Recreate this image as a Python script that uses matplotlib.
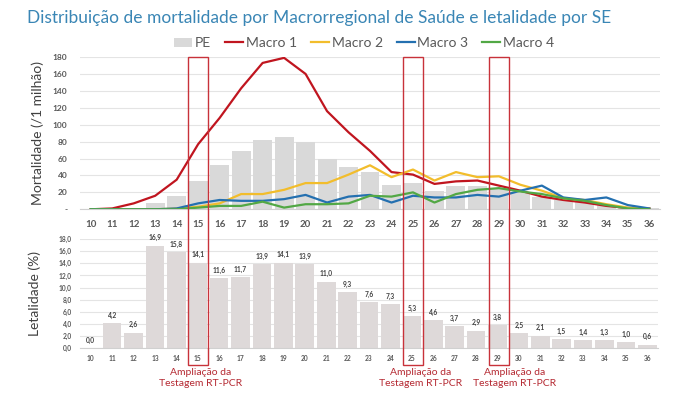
import numpy as np
import matplotlib
matplotlib.use("Agg")
import matplotlib.pyplot as plt
from matplotlib.patches import Rectangle
from matplotlib.transforms import blended_transform_factory

plt.rcParams['font.family'] = ['Lato', 'DejaVu Sans']

# semanas epidemiologicas
weeks = list(range(10, 37))
# mortalidade por 1 milhao
pe = [0, 0, 1, 7, 16, 33, 52, 69, 82, 85, 79, 60, 50, 44, 29, 31, 22, 27, 27, 25, 19, 15, 11, 9, 5, 2.5, 1]
macro1 = [0, 1, 7, 16, 35, 77, 108, 143, 173, 179, 160, 116, 91, 69, 44, 41, 30, 33, 34, 28, 22, 15, 11, 8, 4, 1.5, 1]
macro2 = [0, 0, 0, 0, 1, 3, 7, 18, 18, 23, 31, 31, 41, 52, 38, 47, 34, 44, 38, 39, 29, 22, 13, 11, 6, 2, 1]
macro3 = [0, 0, 0, 0, 1, 7, 11, 10, 10, 12, 17, 8, 15, 17, 8, 16, 14, 14, 17, 15, 22, 28, 14, 11, 14, 5, 1]
macro4 = [0, 0, 0, 0, 0, 2, 4, 4, 9, 2, 6, 6, 7, 16, 15, 20, 8, 18, 23, 25, 21, 18, 13, 10, 5, 1, 0]
# letalidade (%)
letal = [0.0, 4.2, 2.6, 16.9, 15.8, 14.1, 11.6, 11.7, 13.9, 14.1, 13.9, 11.0, 9.3,
         7.6, 7.3, 5.3, 4.6, 3.7, 2.9, 3.8, 2.5, 2.1, 1.5, 1.4, 1.3, 1.0, 0.6]
test_weeks = [15, 25, 29]
test_text = "Ampliação da\nTestagem RT-PCR"

series = [("Macro 1", macro1, "#c0151f"),
          ("Macro 2", macro2, "#f2bd2c"),
          ("Macro 3", macro3, "#2470b0"),
          ("Macro 4", macro4, "#52a845")]

x = np.arange(len(weeks))
tick_col = "#595959"
grid_col = "#e4e4e4"
red_box = "#c8323a"

fig = plt.figure(figsize=(7, 3.94), dpi=100)
fig.patch.set_facecolor("white")

fig.text(0.038, 0.955, "Distribuição de mortalidade por Macrorregional de Saúde e letalidade por SE",
         color="#3a86b5", fontsize=12.5, va="center", ha="left")

# --- top chart: mortalidade
ax1 = fig.add_axes([0.1143, 0.4688, 0.8286, 0.3865])
bars = ax1.bar(x, pe, width=0.88, color="#d9d9d9", label="PE", zorder=2)
handles = [bars]
for name, vals, col in series:
    ln, = ax1.plot(x, vals, color=col, lw=1.6, label=name, zorder=3)
    handles.append(ln)
ax1.set_xlim(-0.5, len(weeks) - 0.5)
ax1.set_ylim(0, 180)
ax1.set_yticks(range(0, 181, 20))
ax1.set_yticklabels(["-"] + [str(v) for v in range(20, 181, 20)])
ax1.set_xticks(x)
ax1.set_xticklabels(weeks)
ax1.grid(axis="y", color=grid_col, lw=0.8, zorder=0)
ax1.set_axisbelow(True)
for s in ["top", "right", "left"]:
    ax1.spines[s].set_visible(False)
ax1.spines["bottom"].set_color("#d0d0d0")
ax1.tick_params(axis="both", length=0, colors=tick_col, labelsize=6)
ax1.tick_params(axis="x", pad=8, labelsize=7)
ax1.tick_params(axis="y", pad=9)
for lab in ax1.get_xticklabels() + ax1.get_yticklabels():
    lab.set_fontweight("bold")
ax1.set_ylabel("Mortalidade (/1 milhão)", fontsize=10, color="#404040", labelpad=8)
ax1.yaxis.set_label_coords(-0.062, 0.5)
ax1.legend(handles=handles, loc="center", bbox_to_anchor=(0.49, 1.09), ncol=5, frameon=False,
           fontsize=10, labelcolor="#595959", handlelength=1.3, handletextpad=0.2,
           columnspacing=1.0, borderaxespad=0)

# --- bottom chart: letalidade
ax2 = fig.add_axes([0.1143, 0.116, 0.8257, 0.2774])
ax2.bar(x, letal, width=0.87, color="#ded9d9", zorder=2)
for xi, v in zip(x, letal):
    ax2.text(xi, v + 0.7, f"{v:.1f}".replace(".", ","), ha="center", va="bottom",
             fontsize=4.8, fontweight="bold", color="#404040")
ax2.set_xlim(-0.5, len(weeks) - 0.5)
ax2.set_ylim(0, 18)
ax2.set_yticks(np.arange(0, 18.1, 2))
ax2.set_yticklabels([f"{v:.1f}".replace(".", ",") for v in np.arange(0, 18.1, 2)])
ax2.set_xticks(x)
ax2.set_xticklabels(weeks)
ax2.grid(axis="y", color=grid_col, lw=0.8, zorder=0)
ax2.set_axisbelow(True)
for s in ["top", "right", "left"]:
    ax2.spines[s].set_visible(False)
ax2.spines["bottom"].set_color("#d0d0d0")
ax2.tick_params(axis="both", length=0, colors=tick_col, labelsize=4.8)
ax2.tick_params(axis="x", pad=5)
ax2.tick_params(axis="y", pad=6)
for lab in ax2.get_xticklabels() + ax2.get_yticklabels():
    lab.set_fontweight("bold")
ax2.set_ylabel("Letalidade (%)", fontsize=10, color="#404040")
ax2.yaxis.set_label_coords(-0.068, 0.5)

# --- red boxes + annotations
tr = blended_transform_factory(ax1.transData, fig.transFigure)
text_shift = [0.1, 0.35, 0.75]
for wk, sh in zip(test_weeks, text_shift):
    i = weeks.index(wk)
    fig.add_artist(Rectangle((i - 0.47, 0.074), 0.94, 0.781, transform=tr,
                             fill=False, edgecolor=red_box, lw=1.0, zorder=5))
    fig.text(i + sh, 0.04, test_text, transform=tr, ha="center", va="center",
             fontsize=7.5, color="#b52a33", linespacing=1.3)

fig.savefig("out.png", dpi=100)
